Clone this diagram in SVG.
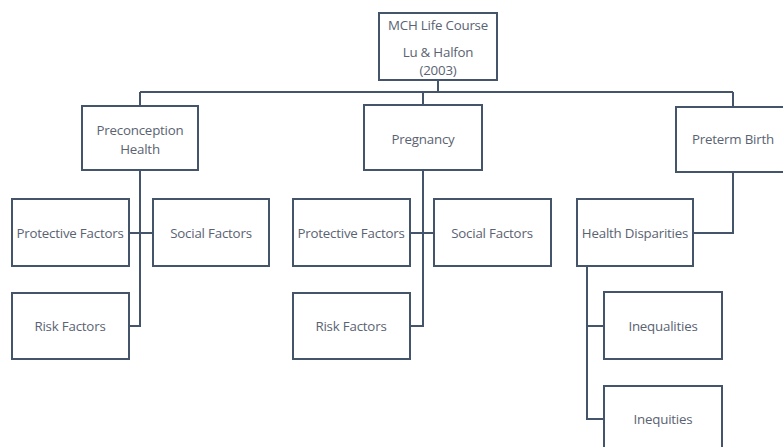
<svg xmlns="http://www.w3.org/2000/svg" width="783" height="447" viewBox="0 0 783 447">
<style>
.box{fill:#ffffff;stroke:#44546a;stroke-width:2}
.ln{fill:none;stroke:#44546a;stroke-width:2}
text{font-family:"Open Sans","Liberation Sans",sans-serif;font-size:13.3px;letter-spacing:-0.2px;fill:#5a6372;text-anchor:middle;dominant-baseline:central}
</style>
<rect width="783" height="447" fill="#ffffff"/>
<g id="connectors">
<path class="ln" d="M438 80V92M140 92H733M140 92V106M423 92V105M733 92V107"/>
<path class="ln" d="M140 170V326H129M129 233H153"/>
<path class="ln" d="M423 170V326H410M410 233H434"/>
<path class="ln" d="M733 172V233H693"/>
<path class="ln" d="M587 266V419H604M587 326H604"/>
</g>
<g id="root"><rect class="box" x="379" y="13" width="118" height="67"/><text x="438" y="25">MCH Life Course</text><text x="438" y="52">Lu &amp; Halfon</text><text x="438" y="70">(2003)</text></g>
<g id="preconception"><rect class="box" x="82" y="106" width="116" height="64"/><text x="140" y="130">Preconception</text><text x="140" y="149">Health</text></g>
<g id="pregnancy"><rect class="box" x="364" y="105" width="118" height="65"/><text x="423" y="139">Pregnancy</text></g>
<g id="preterm"><rect class="box" x="676" y="107" width="116" height="65"/><text x="733" y="139">Preterm Birth</text></g>
<g id="protective1"><rect class="box" x="12" y="199" width="117" height="67"/><text x="70" y="233">Protective Factors</text></g>
<g id="social1"><rect class="box" x="153" y="199" width="116" height="67"/><text x="211" y="233">Social Factors</text></g>
<g id="risk1"><rect class="box" x="12" y="293" width="117" height="66"/><text x="70" y="326">Risk Factors</text></g>
<g id="protective2"><rect class="box" x="293" y="199" width="117" height="67"/><text x="351" y="233">Protective Factors</text></g>
<g id="social2"><rect class="box" x="434" y="199" width="117" height="67"/><text x="492" y="233">Social Factors</text></g>
<g id="risk2"><rect class="box" x="293" y="293" width="117" height="66"/><text x="351" y="326">Risk Factors</text></g>
<g id="disparities"><rect class="box" x="577" y="199" width="116" height="67"/><text x="635" y="233">Health Disparities</text></g>
<g id="inequalities"><rect class="box" x="604" y="292" width="118" height="67"/><text x="663" y="326">Inequalities</text></g>
<g id="inequities"><rect class="box" x="604" y="386" width="118" height="67"/><text x="663" y="419">Inequities</text></g>
</svg>
